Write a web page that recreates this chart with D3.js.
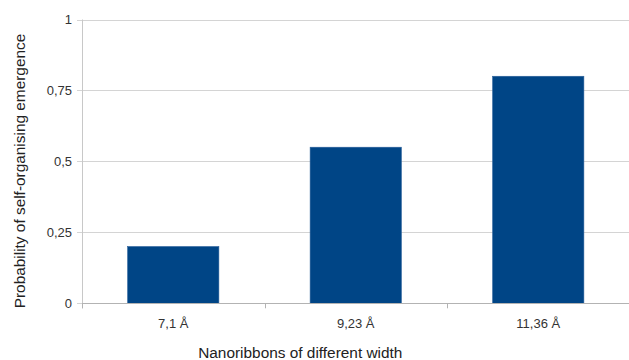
<!DOCTYPE html>
<html><head><meta charset="utf-8">
<script src="https://cdn.jsdelivr.net/npm/d3@7"></script>
<style>body{margin:0;background:#fff}svg{display:block}text{font-family:"Liberation Sans",Arial,sans-serif}</style>
</head><body><svg id="c" width="629" height="360"></svg>
<script>
const categories = ["7,1 Å", "9,23 Å", "11,36 Å"];
const values = [0.2, 0.55, 0.8];
const yTicks = [0, 0.25, 0.5, 0.75, 1];
const yTickLabels = ["0", "0,25", "0,5", "0,75", "1"];
const xTitle = "Nanoribbons of different width";
const yTitle = "Probability of self-organising emergence";

const svg = d3.select("#c");
const L = 82, R = 629.5, T = 19.5, B = 303.3;
const x = d3.scaleBand().domain(categories).range([L, R]).paddingInner(0.5).paddingOuter(0.25);
const y = d3.scaleLinear().domain([0, 1]).range([B, T]);

// gridlines
svg.append("g").selectAll("line").data(yTicks).join("line")
  .attr("x1", L - 5).attr("x2", R).attr("y1", d => Math.round(y(d)) + 0.5).attr("y2", d => Math.round(y(d)) + 0.5)
  .attr("stroke", "#d4d4d4").attr("stroke-width", 1);

// bars
svg.append("g").selectAll("rect").data(values).join("rect")
  .attr("x", (d, i) => x(categories[i])).attr("width", x.bandwidth())
  .attr("y", d => y(d)).attr("height", d => B - y(d))
  .attr("fill", "#004586").attr("stroke", "#2a5f9a").attr("stroke-width", 0.6);

// y axis line
svg.append("line").attr("x1", L + 0.5).attr("x2", L + 0.5).attr("y1", T).attr("y2", B + 5).attr("stroke", "#c8c8c8");
// x axis line
svg.append("line").attr("x1", L).attr("x2", R).attr("y1", Math.round(B) + 0.5).attr("y2", Math.round(B) + 0.5).attr("stroke", "#b3b3b3");
// x ticks at band boundaries
const step = x.step();
const bounds = categories.map(c => x(c) - x.paddingInner() * step / 2).concat([R]);
svg.append("g").selectAll("line").data(bounds).join("line")
  .attr("x1", d => Math.round(d) + 0.5).attr("x2", d => Math.round(d) + 0.5)
  .attr("y1", B).attr("y2", B + 5).attr("stroke", "#b3b3b3");

// y tick labels
svg.append("g").selectAll("text").data(yTicks).join("text")
  .attr("x", 72).attr("y", d => y(d) + 4.5).attr("text-anchor", "end")
  .attr("font-size", 13).attr("fill", "#333").text((d, i) => yTickLabels[i]);

// x tick labels
svg.append("g").selectAll("text").data(categories).join("text")
  .attr("x", d => x(d) + x.bandwidth() / 2).attr("y", 328).attr("text-anchor", "middle")
  .attr("font-size", 13).attr("fill", "#333").text(d => d);

// titles
svg.append("text").attr("x", 300.3).attr("y", 358).attr("text-anchor", "middle")
  .attr("font-size", 15.4).attr("fill", "#222").text(xTitle);
svg.append("text").attr("transform", "translate(24.5,171) rotate(-90)").attr("text-anchor", "middle")
  .attr("font-size", 15.4).attr("fill", "#222").text(yTitle);
</script></body></html>
